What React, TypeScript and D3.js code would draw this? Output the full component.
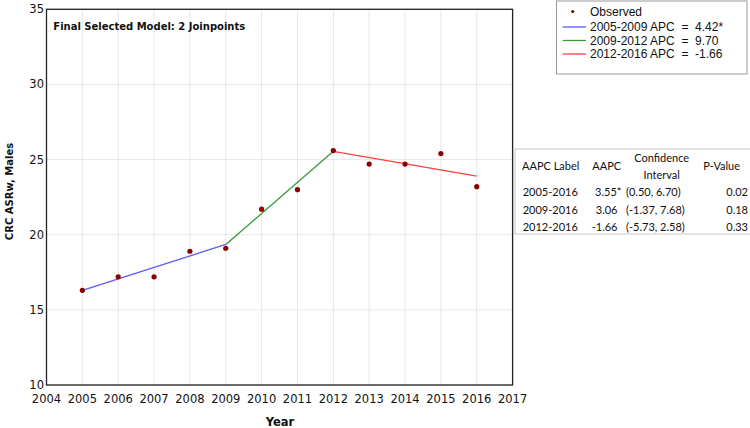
import * as d3 from 'd3';
import React from 'react';

// observed rates
const years = [2005, 2006, 2007, 2008, 2009, 2010, 2011, 2012, 2013, 2014, 2015, 2016];
const observed = [16.3, 17.2, 17.2, 18.9, 19.1, 21.7, 23.0, 25.6, 24.7, 24.7, 25.4, 23.2];

// fitted joinpoint segments
const segYears = [[2005, 2009], [2009, 2012], [2012, 2016]];
const segValues = [[16.3, 19.35], [19.35, 25.55], [25.55, 23.9]];
const segColors = ['#5a5aff', '#3a9a3a', '#ff4040'];
const legendLabels = ['2005-2009 APC  =  4.42*', '2009-2012 APC  =  9.70', '2012-2016 APC  =  -1.66'];

const xTicks = d3.range(2004, 2018);
const yTicks = [10, 15, 20, 25, 30, 35];

const aapcLabels = ['2005-2016', '2009-2016', '2012-2016'];
const aapcValues = ['3.55*', '3.06', '-1.66'];
const aapcCI = ['(0.50, 6.70)', '(-1.37, 7.68)', '(-5.73, 2.58)'];
const aapcP = ['0.02', '0.18', '0.33'];

const W = 750;
const H = 428;
const left = 46.5;
const right = 512.6;
const top = 9.3;
const bottom = 385;

export default function App() {
  const x = d3.scaleLinear().domain([2004, 2017]).range([left, right]);
  const y = d3.scaleLinear().domain([10, 35]).range([bottom, top]);
  const line = d3.line<[number, number]>().x(d => x(d[0])).y(d => y(d[1]));

  const tickFont = 'DejaVu Sans, Verdana, sans-serif';
  const tableFont = 'Lato, Carlito, sans-serif';
  const rowY = [191.7, 209.5, 227.3];

  return (
    <svg width={W} height={H} style={{ position: 'absolute', left: 0, top: 0, background: '#fff' }}>
      <rect x={0} y={0} width={W} height={H} fill="#fff" />
      {/* grid */}
      {xTicks.map(t => (
        <line key={'gx' + t} x1={x(t)} x2={x(t)} y1={top} y2={bottom} stroke="#d0d0d0" strokeWidth={1} strokeDasharray="1,1" />
      ))}
      {yTicks.map(t => (
        <line key={'gy' + t} x1={left} x2={right} y1={y(t)} y2={y(t)} stroke="#d0d0d0" strokeWidth={1} strokeDasharray="1,1" />
      ))}
      <rect x={left} y={top} width={right - left} height={bottom - top} fill="none" stroke="#222" strokeWidth={1.3} />

      {/* tick labels */}
      {xTicks.map(t => (
        <text key={'tx' + t} x={x(t)} y={403} textAnchor="middle" fontFamily={tickFont} fontSize={11.5} fill="#111">{t}</text>
      ))}
      {yTicks.map(t => (
        <text key={'ty' + t} x={44} y={y(t) + 4} textAnchor="end" fontFamily={tickFont} fontSize={11.5} fill="#111">{t}</text>
      ))}
      <text x={280} y={426} textAnchor="middle" fontFamily={tickFont} fontWeight="bold" fontSize={11.5} fill="#111">Year</text>
      <text transform="translate(12.5,191.5) rotate(-90)" textAnchor="middle" fontFamily={tickFont} fontWeight="bold" fontSize={10} fill="#111">CRC ASRw, Males</text>
      <text x={53.3} y={29.5} fontFamily={tickFont} fontWeight="bold" fontSize={10} fill="#111">Final Selected Model: 2 Joinpoints</text>

      {/* fitted segments */}
      {segYears.map((s, i) => (
        <path key={'s' + i} d={line([[s[0], segValues[i][0]], [s[1], segValues[i][1]]]) || ''} stroke={segColors[i]} strokeWidth={1.3} fill="none" />
      ))}
      {/* observed */}
      {years.map((yr, i) => (
        <circle key={'p' + yr} cx={x(yr)} cy={y(observed[i])} r={2.6} fill="#8b0000" />
      ))}

      {/* legend */}
      <rect x={556.5} y={1} width={190.5} height={73} fill="#fff" stroke="#9a9a9a" strokeWidth={1} />
      <circle cx={572.7} cy={11.5} r={1.6} fill="#8b0000" />
      <text x={590} y={16} fontFamily="Liberation Sans, Arial, sans-serif" fontSize={12} fill="#111">Observed</text>
      {legendLabels.map((l, i) => (
        <g key={'lg' + i}>
          <line x1={562.7} x2={586} y1={27 + i * 13.5} y2={27 + i * 13.5} stroke={segColors[i]} strokeWidth={1.3} />
          <text x={590} y={31 + i * 13.5} fontFamily="Liberation Sans, Arial, sans-serif" fontSize={12} fill="#111" style={{ whiteSpace: 'pre' }}>{l}</text>
        </g>
      ))}

      {/* AAPC table */}
      <rect x={515} y={149} width={240} height={85} fill="#fff" stroke="#c8c8c8" strokeWidth={1} />
      <g fontFamily={tableFont} fontSize={11} fill="#111">
        <text x={550.7} y={170} textAnchor="middle">AAPC Label</text>
        <text x={606.7} y={170} textAnchor="middle">AAPC</text>
        <text x={661.7} y={162} textAnchor="middle">Confidence</text>
        <text x={661.7} y={179} textAnchor="middle">Interval</text>
        <text x={721.7} y={170} textAnchor="middle">P-Value</text>
        {aapcLabels.map((l, i) => (
          <g key={'r' + i}>
            <text x={522.7} y={rowY[i] + 4}>{l}</text>
            <text x={aapcValues[i].endsWith('*') ? 621.5 : 617.5} y={rowY[i] + 4} textAnchor="end">{aapcValues[i]}</text>
            <text x={626} y={rowY[i] + 4}>{aapcCI[i]}</text>
            <text x={748} y={rowY[i] + 4} textAnchor="end">{aapcP[i]}</text>
          </g>
        ))}
      </g>
    </svg>
  );
}
